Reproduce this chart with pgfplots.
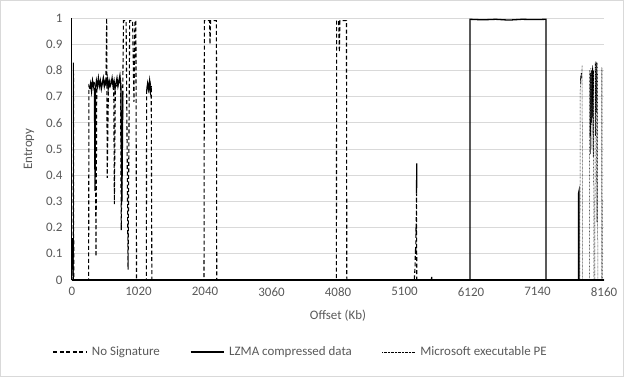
\documentclass[border=0pt]{standalone}
\usepackage{pgfplots}
\pgfplotsset{compat=1.18}
\usepackage{fontspec}
\setmainfont{Carlito}
\definecolor{gridgray}{HTML}{D9D9D9}
\definecolor{labelgray}{HTML}{595959}
\begin{document}
\begin{tikzpicture}
\useasboundingbox (-72bp,-97bp) rectangle (552bp,280bp);
\draw[gridgray, line width=1bp] (-71.5bp,-96.5bp) rectangle (551.5bp,279.5bp);
\begin{axis}[
  at={(0,0)}, anchor=south west,
  scale only axis, width=532bp, height=262bp,
  xmin=0, xmax=8160, ymin=0, ymax=1,
  xtick={0,1020,2040,3060,4080,5100,6120,7140,8160},
  ytick={0,0.1,0.2,0.3,0.4,0.5,0.6,0.7,0.8,0.9,1},
  axis x line*=bottom, axis y line*=left,
  x axis line style={black, line width=1.5bp, -},
  y axis line style={black, line width=1bp, -},
  major tick length=0pt,
  ymajorgrids, grid style={color=gridgray, line width=0.75bp},
  tick label style={font=\fontsize{13}{15}\selectfont, text=labelgray},
  /pgf/number format/assume math mode=true,
  yticklabel style={/pgf/number format/fixed, xshift=-6bp},
  xticklabel style={/pgf/number format/set thousands separator={}, yshift=-4bp},
  xlabel={Offset (Kb)}, ylabel={Entropy},
  label style={font=\fontsize{13}{15}\selectfont, text=labelgray},
  xlabel style={at={(axis description cs:0.5,-0.137)}, anchor=center},
  ylabel style={at={(axis description cs:-0.081,0.5)}, anchor=center},
  unbounded coords=jump,
  legend columns=3,
  legend style={at={(axis description cs:0.43,-0.275)}, anchor=center, draw=none, fill=none,
    font=\fontsize{13}{15}\selectfont, text=labelgray,
    /tikz/every odd column/.append style={column sep=3bp},
    /tikz/every even column/.append style={column sep=28bp}},
  legend cell align=left,
  legend image code/.code={\draw[#1] (0bp,0bp) -- (33bp,0bp);},
]
% No Signature (dashed)
\addplot[black, line width=1.1bp, dash pattern=on 4bp off 2.5bp] table {
x y
0 0
18 0
22 0.83
27 0
255 0
260 0.74
280 0.73
300 0.75
320 0.74
340 0.76
355 0.74
368 0.09
380 0.74
400 0.75
420 0.76
440 0.74
460 0.75
480 0.77
500 0.74
520 0.75
532 1.0
540 0.39
560 0.75
580 0.74
600 0.76
620 0.75
640 0.74
650 0.29
665 0.75
690 0.74
710 0.76
745 0.75
755 0.19
790 0.99
830 0.99
860 0.04
885 0.99
930 0.99
950 0.68
965 0.99
980 0.99
990 0
1140 0
1145 0.73
1160 0.74
1180 0.72
1200 0.75
1215 0.73
1225 0
2025 0
2030 0.99
2080 0.99
2110 0.99
2117 0.90
2125 0.99
2143 0.99
2215 0.99
2220 0
4055 0
4060 0.99
4090 0.99
4101 0.87
4110 0.99
4210 0.99
4215 0
5250 0
5262 0.05
5268 0.12
5272 0.10
5276 0.20
5279 0.17
5282 0.28
5285 0.33
5288 0
8160 0
};
\addlegendentry{No Signature}
% LZMA compressed data (solid)
\addplot[black, line width=1.3bp] table {
x y
0 0.05
3 0.16
5 0.06
8 0.13
11 0.04
14 0.11
17 0.02
20 0
21 nan
270 0.73
285 0.75
300 0.72
315 0.76
330 0.74
345 0.72
353 0.34
362 0.73
375 0.76
390 0.74
405 0.77
420 0.74
435 0.76
450 0.73
465 0.75
480 0.77
495 0.74
510 0.76
525 0.75
540 0.77
555 0.73
570 0.76
585 0.74
600 0.75
615 0.77
630 0.74
645 0.76
660 0.73
675 0.75
690 0.77
705 0.74
720 0.76
735 0.78
750 0.74
765 0.30
780 0.72
781 nan
1145 0.72
1160 0.75
1175 0.73
1190 0.76
1205 0.72
1215 0.74
1216 nan
5285 0.33
5288 0.445
5289 nan
5515 0
5517 0.012
5519 0
5520 nan
6105 0
6106 0.995
6300 0.993
6500 0.995
6700 0.992
6900 0.995
7100 0.994
7270 0.995
7271 0
7272 nan
7768 0
7769 0.33
7775 0.337
7776 0
};
\addlegendentry{LZMA compressed data}
% Microsoft executable PE (dotted)
\addplot[black, line width=0.5bp, dash pattern=on 0.6bp off 0.8bp] table {
x y
7790 0
7795 0.72
7800 0.78
7805 0.75
7810 0.79
7815 0.77
7820 0.80
7825 0.82
7830 0
7935 0
7940 0.80
7945 0.55
7950 0.79
7955 0.48
7960 0.81
7965 0.60
7970 0.80
7975 0.50
7980 0.82
7985 0.62
7990 0.81
7995 0.47
8000 0.80
8005 0
8020 0
8025 0.83
8030 0.55
8035 0.835
8040 0.64
8045 0.83
8050 0.22
8055 0.60
8060 0.83
8065 0
8120 0
8125 0.81
8130 0.81
8135 0
};
\addlegendentry{Microsoft executable  PE}
\end{axis}
\end{tikzpicture}
\end{document}
